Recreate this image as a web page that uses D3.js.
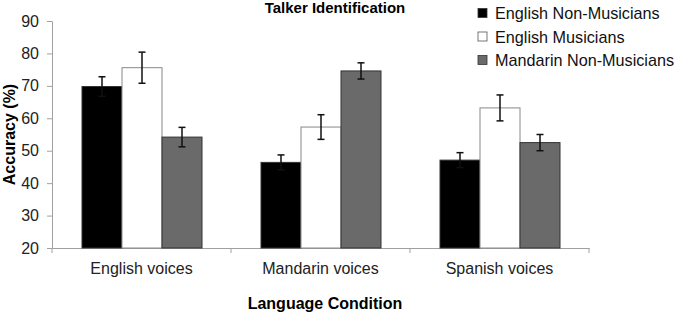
<!DOCTYPE html>
<html>
<head>
<meta charset="utf-8">
<script src="https://cdn.jsdelivr.net/npm/d3@7"></script>
<style>
  body { margin: 0; background: #fff; }
  text { font-family: Arial, "Liberation Sans", sans-serif; }
</style>
</head>
<body>
<svg id="chart" width="675" height="314"></svg>
<script>
// data
var categories = ["English voices", "Mandarin voices", "Spanish voices"]
var groups = ["English Non-Musicians", "English Musicians", "Mandarin Non-Musicians"]
var meanEngNonMus = [69.8, 46.4, 47.1]
var meanEngMus = [75.6, 57.3, 63.2]
var meanManNonMus = [54.2, 74.6, 52.5]
var errEngNonMus = [3.0, 2.3, 2.3]
var errEngMus = [4.8, 3.8, 4.0]
var errManNonMus = [3.0, 2.5, 2.5]
var yTicks = [20, 30, 40, 50, 60, 70, 80, 90]

var colors = ["#000000", "#ffffff", "#6a6a6a"]
var means = [meanEngNonMus, meanEngMus, meanManNonMus]
var errs = [errEngNonMus, errEngMus, errManNonMus]

var svg = d3.select("#chart")
var plotL = 52, plotR = 589, plotT = 21, plotB = 248

var x = d3.scaleBand().domain(categories).range([plotL, plotR])
var xInner = d3.scaleBand().domain(groups).range([30, 150])
var y = d3.scaleLinear().domain([20, 90]).range([plotB, plotT])

var rows = []
categories.forEach(function(c, i){
    groups.forEach(function(g, j){
        rows.push({cat: c, grp: g, v: means[j][i], e: errs[j][i], color: colors[j], k: j})
    })
})

// y axis
var yAxis = svg.append("g")
    .attr("transform", "translate(" + plotL + ",0)")
    .call(d3.axisLeft(y).tickValues(yTicks).tickSize(5).tickSizeOuter(0))
yAxis.select(".domain").attr("stroke", "#a0a0a0")
yAxis.selectAll(".tick line").attr("stroke", "#a0a0a0")
yAxis.selectAll(".tick text").attr("x", -13).attr("font-size", 16).attr("fill", "#222")
    .style("font-family", "Arial, 'Liberation Sans', sans-serif")

// x axis
var xAxis = svg.append("g")
    .attr("transform", "translate(0," + plotB + ")")
    .call(d3.axisBottom(x).tickSize(0).tickSizeOuter(0))
xAxis.select(".domain").attr("stroke", "#a0a0a0")
xAxis.selectAll(".tick text").attr("y", 15).attr("font-size", 16).attr("fill", "#222")
    .style("font-family", "Arial, 'Liberation Sans', sans-serif")
svg.append("g").selectAll("line")
    .data(categories.map(function(c){ return x(c) }).concat([plotR]))
    .enter().append("line")
    .attr("x1", function(d){ return d }).attr("x2", function(d){ return d })
    .attr("y1", plotB).attr("y2", plotB + 5)
    .attr("stroke", "#a0a0a0")

// bars
svg.append("g").selectAll("rect")
    .data(rows)
    .enter().append("rect")
    .attr("x", function(d){ return x(d.cat) + xInner(d.grp) })
    .attr("y", function(d){ return y(d.v) })
    .attr("width", xInner.bandwidth())
    .attr("height", function(d){ return y(20) - y(d.v) })
    .attr("fill", function(d){ return d.color })
    .attr("stroke", function(d){ return d.k == 1 ? "#888" : "#333" })
    .attr("stroke-width", 1)

// error bars
var eb = svg.append("g").selectAll("g")
    .data(rows)
    .enter().append("g")
    .attr("transform", function(d){ return "translate(" + (x(d.cat) + xInner(d.grp) + xInner.bandwidth() / 2) + ",0)" })
eb.append("line")
    .attr("y1", function(d){ return y(d.v + d.e) })
    .attr("y2", function(d){ return y(d.v - d.e) })
    .attr("stroke", "#111").attr("stroke-width", 1.5)
eb.append("line")
    .attr("x1", -3.5).attr("x2", 3.5)
    .attr("y1", function(d){ return y(d.v + d.e) })
    .attr("y2", function(d){ return y(d.v + d.e) })
    .attr("stroke", "#111").attr("stroke-width", 1.5)
eb.append("line")
    .attr("x1", -3.5).attr("x2", 3.5)
    .attr("y1", function(d){ return y(d.v - d.e) })
    .attr("y2", function(d){ return y(d.v - d.e) })
    .attr("stroke", "#111").attr("stroke-width", 1.5)

// title
svg.append("text")
    .attr("x", 335).attr("y", 13)
    .attr("text-anchor", "middle")
    .attr("font-size", 15).attr("font-weight", "bold")
    .text("Talker Identification")

// axis titles
svg.append("text")
    .attr("transform", "translate(15," + ((plotT + plotB) / 2) + ") rotate(-90)")
    .attr("text-anchor", "middle")
    .attr("font-size", 16).attr("font-weight", "bold")
    .text("Accuracy (%)")
svg.append("text")
    .attr("x", 325).attr("y", 309)
    .attr("text-anchor", "middle")
    .attr("font-size", 16).attr("font-weight", "bold")
    .text("Language Condition")

// legend
var legend = svg.append("g").selectAll("g")
    .data(groups)
    .enter().append("g")
    .attr("transform", function(d, i){ return "translate(478," + (13 + i * 23.5) + ")" })
legend.append("rect")
    .attr("x", 0).attr("y", -4.5)
    .attr("width", 9).attr("height", 9)
    .attr("fill", function(d, i){ return colors[i] })
    .attr("stroke", function(d, i){ return i == 1 ? "#555" : "#333" })
    .attr("stroke-width", 0.8)
legend.append("text")
    .attr("x", 17).attr("y", 6)
    .attr("font-size", 16.2).attr("fill", "#111")
    .text(function(d){ return d })
</script>
</body>
</html>
